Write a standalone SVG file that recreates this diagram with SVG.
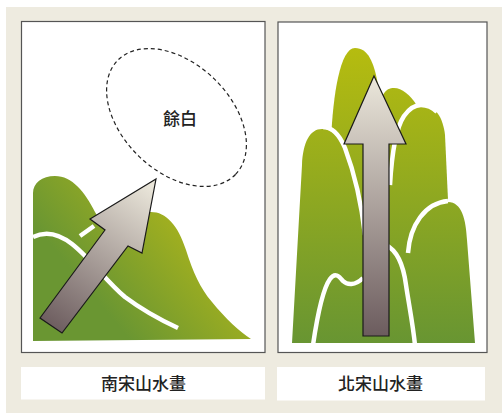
<svg xmlns="http://www.w3.org/2000/svg" width="502" height="413" viewBox="0 0 502 413">
  <defs>
    <linearGradient id="greenDiag" gradientUnits="userSpaceOnUse" x1="95" y1="298" x2="195" y2="215">
      <stop offset="0" stop-color="#6A9632"/>
      <stop offset="1" stop-color="#ABB41C"/>
    </linearGradient>
    <linearGradient id="greenVert" gradientUnits="userSpaceOnUse" x1="0" y1="47" x2="0" y2="343">
      <stop offset="0" stop-color="#B6BC0F"/>
      <stop offset="1" stop-color="#689532"/>
    </linearGradient>
    <linearGradient id="arrowDiag" gradientUnits="userSpaceOnUse" x1="150" y1="185" x2="50" y2="328">
      <stop offset="0" stop-color="#EAE6DA"/>
      <stop offset="1" stop-color="#6C5C5E"/>
    </linearGradient>
    <linearGradient id="arrowVert" gradientUnits="userSpaceOnUse" x1="0" y1="78" x2="0" y2="336">
      <stop offset="0" stop-color="#EAE6DA"/>
      <stop offset="1" stop-color="#6C5C5E"/>
    </linearGradient>
  </defs>
  <style>
    .panel { fill: #FFFFFF; stroke: #555555; stroke-width: 1.2; }
    .label-box { fill: #FFFFFF; }
    .label { font-family: "Noto Sans CJK TC", "Noto Sans CJK JP", sans-serif; font-size: 17px; font-weight: 500; fill: #222222; text-anchor: middle; }
    .ridge { fill: none; stroke: #FFFFFF; stroke-width: 4.5; stroke-linecap: butt; }
    .arrow { stroke: #1A1A1A; stroke-width: 1.2; stroke-linejoin: miter; }
    .blank { fill: none; stroke: #222222; stroke-width: 1.2; stroke-dasharray: 4 3; }
  </style>

  <!-- page background -->
  <rect x="6" y="7" width="496" height="406" fill="#EEEBE0"/>

  <!-- Southern Song panel -->
  <g id="southern-song">
    <rect class="panel" x="21.5" y="21.5" width="243.5" height="331"/>
    <path fill="url(#greenDiag)" d="M 33,341 L 33,193 C 33,183 42,176 55,176 C 72,176 85,192 95,212 C 102,224 108,228 118,224 C 130,217 140,212 151,212 C 166,212 178,225 186,250 C 193,272 200,288 212,302 C 225,318 240,332 251,339 Z"/>
    <path class="ridge" d="M 33,237 C 45,231 58,233 72,244 C 90,258 105,280 125,297 C 145,312 165,322 178,328"/>
    <path class="ridge" d="M 80,236 L 94,226"/>
    <ellipse class="blank" cx="176.5" cy="117.5" rx="82" ry="54" transform="rotate(44 176.5 117.5)"/>
    <text class="label" x="180" y="125">餘白</text>
    <path class="arrow" fill="url(#arrowDiag)" d="M 156,179 L 142,253 L 128,246 L 62,333 L 40,318 L 105,230 L 90,219 Z"/>
  </g>

  <!-- Northern Song panel -->
  <g id="northern-song">
    <rect class="panel" x="278" y="22" width="209" height="330.5"/>
    <!-- tall back peak -->
    <path fill="url(#greenVert)" d="M 328,343 L 331,140 C 333,95 340,48 355,48 C 368,48 374,62 378,85 L 385,343 Z"/>
    <!-- small back hump -->
    <path fill="url(#greenVert)" d="M 380,343 L 383,95 C 386,89 390,88 394,88 C 402,88 410,95 416,104 L 420,343 Z"/>
    <!-- right hump -->
    <path fill="url(#greenVert)" d="M 388,343 L 390,185 C 392,150 396,128 404,116 C 409,109 414,105 421,105 C 436,105 443,118 445,135 L 448,200 L 448,343 Z"/>
    <path class="ridge" d="M 390,185 C 392,150 396,128 404,116 C 409,109 414,105 421,105 C 428,105 433,108 437,112"/>
    <!-- lower right hump -->
    <path fill="url(#greenVert)" d="M 405,343 L 408,252 C 410,225 425,203 448,202 C 462,202 466,220 467,240 L 475,343 Z"/>
    <path class="ridge" d="M 408,253 C 410,225 425,203 448,201"/>
    <!-- left hump -->
    <path fill="url(#greenVert)" d="M 292,343 L 302,165 C 303,142 310,129 322,129 C 332,129 338,136 343,147 C 353,172 360,200 363,235 L 363,343 Z"/>
    <path class="ridge" d="M 323,127 C 333,127 340,136 345,148 C 354,172 361,200 365,235"/>
    <!-- lower ridges -->
    <path class="ridge" d="M 313,345 C 317,318 322,290 330,279 C 335,272 339,276 343,281 C 347,285 355,286 363,278"/>
    <path class="ridge" d="M 386,245 C 396,250 403,262 406,285 C 409,305 413,325 415,345"/>
    <path class="arrow" fill="url(#arrowVert)" d="M 374,76 L 406,144 L 389,144 L 389,336 L 363,336 L 363,144 L 344,144 Z"/>
  </g>

  <!-- captions -->
  <g id="caption-southern">
    <rect class="label-box" x="21" y="367" width="244" height="32.5"/>
    <text class="label" x="143.5" y="390">南宋山水畫</text>
  </g>
  <g id="caption-northern">
    <rect class="label-box" x="277" y="367" width="208" height="33.5"/>
    <text class="label" x="380.5" y="390">北宋山水畫</text>
  </g>
</svg>
